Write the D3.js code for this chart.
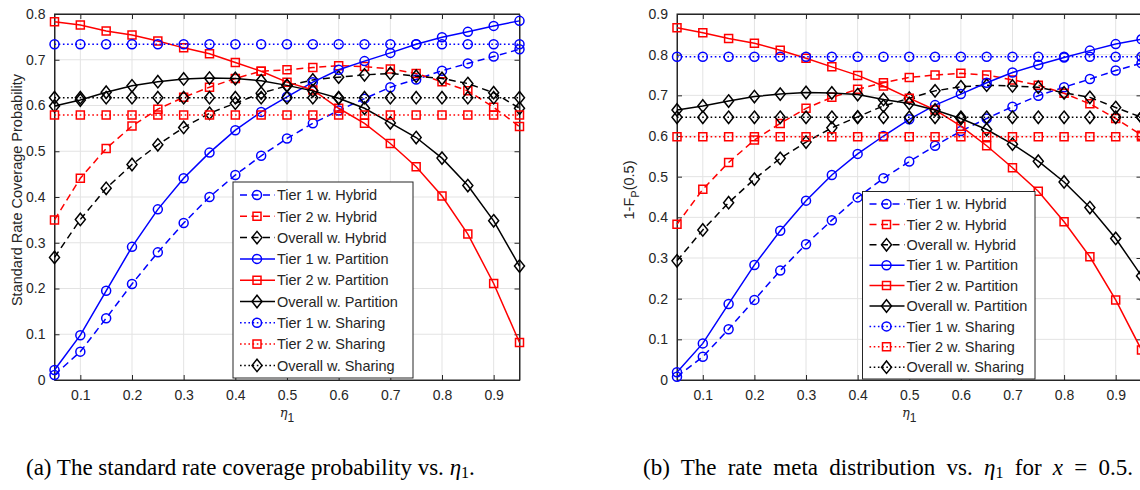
<!DOCTYPE html>
<html><head><meta charset="utf-8">
<script src="https://cdn.jsdelivr.net/npm/d3@7/dist/d3.min.js"></script>
<style>
body { margin: 0; background: #fff; }
text { font-family: "Liberation Sans", Arial, sans-serif; fill: #262626; }
.cap { font-family: "Liberation Serif", "Times New Roman", serif; fill: #000; }
</style>
</head>
<body>
<svg width="1140" height="490"></svg>
<script>

// x values (eta_1)
const eta = [0.05,0.1,0.15,0.2,0.25,0.3,0.35,0.4,0.45,0.5,0.55,0.6,0.65,0.7,0.75,0.8,0.85,0.9,0.95];
const xTicks = [0.1,0.2,0.3,0.4,0.5,0.6,0.7,0.8,0.9];

// panel (a) standard rate coverage probability
const aT1Hybrid  = [0.011,0.062,0.135,0.210,0.279,0.343,0.400,0.448,0.490,0.528,0.561,0.589,0.615,0.640,0.657,0.676,0.692,0.707,0.723];
const aT2Hybrid  = [0.350,0.441,0.506,0.555,0.592,0.618,0.640,0.659,0.675,0.678,0.683,0.687,0.685,0.680,0.670,0.652,0.632,0.596,0.554];
const aAllHybrid = [0.268,0.351,0.419,0.471,0.514,0.552,0.583,0.605,0.627,0.643,0.656,0.662,0.667,0.670,0.664,0.659,0.648,0.628,0.594];
const aT1Part    = [0.022,0.098,0.195,0.291,0.373,0.441,0.497,0.546,0.586,0.619,0.651,0.678,0.697,0.715,0.734,0.749,0.761,0.774,0.785];
const aT2Part    = [0.783,0.776,0.763,0.754,0.741,0.726,0.713,0.694,0.675,0.651,0.634,0.594,0.561,0.517,0.466,0.402,0.319,0.211,0.082];
const aAllPart   = [0.599,0.612,0.629,0.643,0.652,0.658,0.660,0.659,0.654,0.644,0.632,0.616,0.594,0.562,0.530,0.485,0.425,0.348,0.249];
const aT1Share   = [0.734,0.734,0.734,0.734,0.734,0.734,0.734,0.734,0.734,0.734,0.734,0.734,0.734,0.734,0.734,0.734,0.734,0.734,0.734];
const aT2Share   = [0.579,0.579,0.579,0.579,0.579,0.579,0.579,0.579,0.579,0.579,0.579,0.579,0.579,0.579,0.579,0.579,0.579,0.579,0.579];
const aAllShare  = [0.617,0.617,0.617,0.617,0.617,0.617,0.617,0.617,0.617,0.617,0.617,0.617,0.617,0.617,0.617,0.617,0.617,0.617,0.617];
const aYTicks = [0,0.1,0.2,0.3,0.4,0.5,0.6,0.7,0.8];

// panel (b) rate meta distribution, x = 0.5
const bT1Hybrid  = [0.008,0.057,0.125,0.197,0.269,0.334,0.393,0.449,0.496,0.537,0.576,0.612,0.643,0.672,0.699,0.720,0.740,0.761,0.779];
const bT2Hybrid  = [0.383,0.469,0.535,0.590,0.631,0.668,0.695,0.715,0.731,0.744,0.750,0.754,0.750,0.738,0.725,0.705,0.679,0.643,0.602];
const bAllHybrid = [0.293,0.369,0.436,0.494,0.545,0.585,0.620,0.647,0.674,0.693,0.711,0.721,0.725,0.723,0.720,0.706,0.695,0.670,0.646];
const bT1Part    = [0.019,0.090,0.187,0.283,0.367,0.441,0.504,0.556,0.600,0.641,0.676,0.703,0.731,0.756,0.775,0.793,0.810,0.826,0.838];
const bT2Part    = [0.866,0.854,0.840,0.828,0.811,0.791,0.770,0.749,0.723,0.693,0.664,0.624,0.576,0.522,0.464,0.389,0.303,0.197,0.074];
const bAllPart   = [0.664,0.674,0.686,0.697,0.703,0.707,0.706,0.702,0.690,0.680,0.664,0.643,0.616,0.580,0.538,0.487,0.424,0.348,0.256];
const bT1Share   = [0.795,0.795,0.795,0.795,0.795,0.795,0.795,0.795,0.795,0.795,0.795,0.795,0.795,0.795,0.795,0.795,0.795,0.795,0.795];
const bT2Share   = [0.598,0.598,0.598,0.598,0.598,0.598,0.598,0.598,0.598,0.598,0.598,0.598,0.598,0.598,0.598,0.598,0.598,0.598,0.598];
const bAllShare  = [0.646,0.646,0.646,0.646,0.646,0.646,0.646,0.646,0.646,0.646,0.646,0.646,0.646,0.646,0.646,0.646,0.646,0.646,0.646];
const bYTicks = [0,0.1,0.2,0.3,0.4,0.5,0.6,0.7,0.8,0.9];

const seriesNames = ["Tier 1 w. Hybrid","Tier 2 w. Hybrid","Overall w. Hybrid",
  "Tier 1 w. Partition","Tier 2 w. Partition","Overall w. Partition",
  "Tier 1 w. Sharing","Tier 2 w. Sharing","Overall w. Sharing"];

const colors  = ["#0000ff","#ff0000","#000000"];
const markers = ["circle","square","diamond"];
const dashes  = ["7,4.5", null, "1.6,2.6"];   // hybrid --, partition -, sharing :

const svg = d3.select("svg");
const axisCol = "#262626";

function markerPath(kind) {
  if (kind == "circle") return "M4.5,0A4.5,4.5 0 1,1 -4.5,0A4.5,4.5 0 1,1 4.5,0Z";
  if (kind == "square") return "M-4,-4H4V4H-4Z";
  return "M0,-6.2L5,0L0,6.2L-5,0Z";
}

function drawPanel(p) {
  let g = svg.append("g");
  let x = d3.scaleLinear().domain([0.05,0.95]).range([p.x0, p.x1]);
  let y = d3.scaleLinear().domain([0, p.yMax]).range([380, 14]);

  // grid
  g.selectAll(".gx").data(xTicks).enter().append("line")
    .attr("x1", d => x(d)).attr("x2", d => x(d)).attr("y1", 14).attr("y2", 380)
    .attr("stroke", "#e3e3e3").attr("stroke-width", 1);
  g.selectAll(".gy").data(p.yTicks.slice(1)).enter().append("line")
    .attr("y1", d => y(d)).attr("y2", d => y(d)).attr("x1", p.x0).attr("x2", p.x1)
    .attr("stroke", "#e3e3e3").attr("stroke-width", 1);

  // axes (ticks inside, box on)
  let xa = g.append("g").attr("transform", "translate(0,380)")
    .call(d3.axisBottom(x).tickValues(xTicks).tickSizeInner(-5).tickSizeOuter(0).tickPadding(10).tickFormat(d3.format(".1f")));
  let xt = g.append("g").attr("transform", "translate(0,14)")
    .call(d3.axisTop(x).tickValues(xTicks).tickSizeInner(-5).tickSizeOuter(0).tickFormat(""));
  let ya = g.append("g").attr("transform", "translate(" + p.x0 + ",0)")
    .call(d3.axisLeft(y).tickValues(p.yTicks).tickSizeInner(-5).tickSizeOuter(0).tickPadding(9)
      .tickFormat(d => d == 0 ? "0" : d3.format(".1f")(d)));
  let yr = g.append("g").attr("transform", "translate(" + p.x1 + ",0)")
    .call(d3.axisRight(y).tickValues(p.yTicks).tickSizeInner(-5).tickSizeOuter(0).tickFormat(""));
  [xa, xt, ya, yr].forEach(a => {
    a.select(".domain").attr("stroke", axisCol);
    a.selectAll(".tick line").attr("stroke", axisCol);
    a.selectAll("text").attr("fill", axisCol).style("font-size", "14px")
      .style("font-family", '"Liberation Sans", Arial, sans-serif');
  });
  g.append("rect").attr("x", p.x0).attr("y", 14).attr("width", p.x1 - p.x0).attr("height", 366)
    .attr("fill", "none").attr("stroke", axisCol).attr("stroke-width", 1);

  // curves
  let line = d3.line().x((d, i) => x(eta[i])).y(d => y(d));
  p.series.forEach((s, k) => {
    let col = colors[k % 3], dash = dashes[Math.floor(k / 3)];
    g.append("path").attr("d", line(s)).attr("fill", "none")
      .attr("stroke", col).attr("stroke-width", 1.5)
      .attr("stroke-dasharray", dash);
    g.selectAll(null).data(s).enter().append("path")
      .attr("d", markerPath(markers[k % 3]))
      .attr("transform", (d, i) => "translate(" + x(eta[i]) + "," + y(d) + ")")
      .attr("fill", "none").attr("stroke", col).attr("stroke-width", 1.5);
  });

  // legend
  let lg = g.append("g");
  lg.append("rect").attr("x", p.leg.x).attr("y", p.leg.y).attr("width", p.leg.w).attr("height", p.leg.h)
    .attr("fill", "#fff").attr("stroke", axisCol).attr("stroke-width", 1);
  seriesNames.forEach((nm, k) => {
    let cy = p.leg.y + p.leg.first + k * p.leg.step;
    let col = colors[k % 3], dash = dashes[Math.floor(k / 3)];
    let lx = p.leg.x + 7;
    lg.append("line").attr("x1", lx).attr("x2", lx + 35).attr("y1", cy).attr("y2", cy)
      .attr("stroke", col).attr("stroke-width", 1.5).attr("stroke-dasharray", dash);
    lg.append("path").attr("d", markerPath(markers[k % 3]))
      .attr("transform", "translate(" + (lx + 17) + "," + cy + ")")
      .attr("fill", "none").attr("stroke", col).attr("stroke-width", 1.5);
    lg.append("text").attr("x", lx + 37).attr("y", cy).attr("dy", "0.36em")
      .style("font-size", "14.5px").text(nm);
  });

  // axis labels
  let xl = g.append("text").attr("x", (p.x0 + p.x1) / 2).attr("y", 417).attr("text-anchor", "middle")
    .style("font-size", "14px");
  xl.append("tspan").style("font-family", '"DejaVu Serif", serif').style("font-style", "italic").style("font-size", "13px").text("η");
  xl.append("tspan").attr("dy", 5).style("font-size", "12px").text("1");

  let yl = g.append("text").attr("transform", "translate(" + p.ylx + ",190) rotate(-90)")
    .attr("text-anchor", "middle").style("font-size", "14.5px");
  p.ylabel(yl);

  // caption; justified like the original: spaces and math gaps share the spare room
  let cap = svg.append("text").attr("class", "cap").attr("x", p.cap[0]).attr("y", 475)
    .style("font-size", "23px");
  p.caption(cap);
  let gaps = cap.selectAll("tspan.gap");
  if (!gaps.empty()) {
    let natural = cap.node().getComputedTextLength();
    let nSpaces = (cap.text().match(/ /g) || []).length;
    let room = p.cap[1] - p.cap[0] - natural - gaps.size() * 5.75;
    let u = Math.max(0, room / (nSpaces + gaps.size()));
    cap.style("word-spacing", u + "px");
    gaps.attr("dx", 5.75 + u);
  }
}

drawPanel({
  x0: 54.5, x1: 519.5, yMax: 0.8, yTicks: aYTicks,
  series: [aT1Hybrid, aT2Hybrid, aAllHybrid, aT1Part, aT2Part, aAllPart, aT1Share, aT2Share, aAllShare],
  leg: {x: 233, y: 182, w: 180, h: 196, first: 13, step: 21.3},
  ylx: 22,
  ylabel: t => t.text("Standard Rate Coverage Probability"),
  cap: [26, 474],
  caption: t => {
    t.append("tspan").text("(a) The standard rate coverage probability vs. ");
    t.append("tspan").style("font-style", "italic").text("η");
    t.append("tspan").attr("dy", 3).style("font-size", "16px").text("1");
    t.append("tspan").attr("dy", -3).text(".");
  }
});

drawPanel({
  x0: 677, x1: 1141.5, yMax: 0.9, yTicks: bYTicks,
  series: [bT1Hybrid, bT2Hybrid, bAllHybrid, bT1Part, bT2Part, bAllPart, bT1Share, bT2Share, bAllShare],
  leg: {x: 862.5, y: 191.5, w: 172.5, h: 187.5, first: 12.5, step: 20.4},
  ylx: 634,
  ylabel: t => {
    t.append("tspan").text("1-F");
    t.append("tspan").attr("dy", 5).style("font-size", "11px").text("P");
    t.append("tspan").attr("dy", -5).text("(0.5)");
  },
  cap: [643, 1133],
  caption: t => {
    t.append("tspan").text("(b) The rate meta distribution vs. ");
    t.append("tspan").style("font-style", "italic").text("η");
    t.append("tspan").attr("dy", 3).style("font-size", "16px").text("1");
    t.append("tspan").attr("class", "gap").attr("dy", -3).text("for");
    t.append("tspan").attr("class", "gap").style("font-style", "italic").text("x");
    t.append("tspan").attr("class", "gap").text("=");
    t.append("tspan").attr("class", "gap").text("0.5.");
  }
});

</script>
</body></html>
